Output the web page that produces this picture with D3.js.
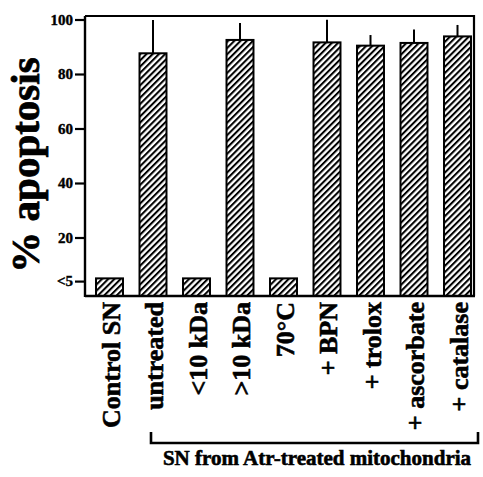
<!DOCTYPE html>
<html>
<head>
<meta charset="utf-8">
<script src="https://cdn.jsdelivr.net/npm/d3@7"></script>
<style>
  html, body { margin: 0; padding: 0; background: #fff; }
  svg { display: block; }
  text { font-family: "Liberation Serif", "Times New Roman", serif; font-weight: bold; fill: #000; stroke: #000; stroke-width: 0.6px; }
</style>
</head>
<body>
<svg id="chart" width="483" height="477"></svg>
<script>
const categories = ["Control SN", "untreated", "<10 kDa", ">10 kDa", "70°C", "+ BPN", "+ trolox", "+ ascorbate", "+ catalase"];
const values = [5, 87.6, 5, 92.5, 5, 91.6, 90.4, 91.4, 93.8];
const errors = [0, 12.2, 0, 6.2, 0, 8.3, 3.9, 4.9, 4.2];
const tickValues = [4, 20, 40, 60, 80, 100];
const tickLabels = ["<5", "20", "40", "60", "80", "100"];
const yTitle = "% apoptosis";
const groupLabel = "SN from Atr-treated mitochondria";
const groupStart = "untreated";
const groupEnd = "+ catalase";

const svg = d3.select("#chart");

const plot = { left: 85, right: 474, top: 16, bottom: 296 };

const y = d3.scaleLinear().domain([0, 100]).range([292, 19.5]);
const x = d3.scaleBand().domain(categories)
  .range([87.75, 479.25]).paddingInner(0.38).paddingOuter(0.19);

// hatch pattern
const defs = svg.append("defs");
const pat = defs.append("pattern")
  .attr("id", "hatch").attr("patternUnits", "userSpaceOnUse")
  .attr("width", 4.4).attr("height", 4.4)
  .attr("patternTransform", "rotate(45)");
pat.append("rect").attr("width", 4.4).attr("height", 4.4).attr("fill", "#fff");
pat.append("line").attr("x1", 1).attr("y1", 0).attr("x2", 1).attr("y2", 4.4)
  .attr("stroke", "#000").attr("stroke-width", 2.1);

// box (top and right)
svg.append("path")
  .attr("d", `M${plot.left},${plot.top}H${plot.right}V${plot.bottom}`)
  .attr("fill", "none").attr("stroke", "#000").attr("stroke-width", 2.2);

// error bars
svg.append("g").selectAll("line")
  .data(categories.map((c, i) => ({ c, v: values[i], e: errors[i] })).filter(d => d.e > 0))
  .join("line")
  .attr("x1", d => x(d.c) + x.bandwidth() / 2)
  .attr("x2", d => x(d.c) + x.bandwidth() / 2)
  .attr("y1", d => y(d.v))
  .attr("y2", d => y(d.v + d.e))
  .attr("stroke", "#000").attr("stroke-width", 2);

// bars
svg.append("g").selectAll("rect")
  .data(categories.map((c, i) => ({ c, v: values[i] })))
  .join("rect")
  .attr("x", d => x(d.c))
  .attr("width", x.bandwidth())
  .attr("y", d => y(d.v))
  .attr("height", d => plot.bottom - y(d.v))
  .attr("fill", "url(#hatch)")
  .attr("stroke", "#000").attr("stroke-width", 2);

// y axis
const yAxis = d3.axisLeft(y).tickValues(tickValues)
  .tickFormat((d, i) => tickLabels[i]).tickSize(10).tickPadding(2);
const ga = svg.append("g").attr("transform", `translate(${plot.left},0)`).call(yAxis);
ga.select(".domain").remove();
ga.selectAll(".tick line").attr("stroke", "#000").attr("stroke-width", 2.2);
ga.selectAll(".tick text").attr("font-size", 15)
  .style("stroke-width", "0.4px").attr("fill", "#000");
ga.append("line").attr("x1", 0).attr("x2", 0)
  .attr("y1", plot.top).attr("y2", plot.bottom + 1)
  .attr("stroke", "#000").attr("stroke-width", 2.4);

// bottom axis line
svg.append("line").attr("x1", plot.left).attr("x2", plot.right + 1)
  .attr("y1", plot.bottom).attr("y2", plot.bottom)
  .attr("stroke", "#000").attr("stroke-width", 2.4);

// category labels
svg.append("g").selectAll("text")
  .data(categories)
  .join("text")
  .attr("transform", d => `translate(${x(d) + x.bandwidth() / 2 + 10},302) rotate(-90)`)
  .attr("text-anchor", "end")
  .attr("font-size", 26)
  .text(d => d);

// y title
svg.append("text")
  .attr("transform", `translate(39,${(57 + 273) / 2}) rotate(-90)`)
  .attr("text-anchor", "middle")
  .attr("font-size", 41)
  .style("stroke-width", "0.8px")
  .text(yTitle);

// bracket
const bx0 = x(groupStart) + x.bandwidth() / 2 - 2;
const bx1 = plot.right + 4;
svg.append("path")
  .attr("d", `M${bx0},432V443H${bx1}V432`)
  .attr("fill", "none").attr("stroke", "#000").attr("stroke-width", 2.6);
svg.append("text")
  .attr("x", 317).attr("y", 465)
  .attr("text-anchor", "middle")
  .attr("font-size", 21)
  .text(groupLabel);
</script>
</body>
</html>
